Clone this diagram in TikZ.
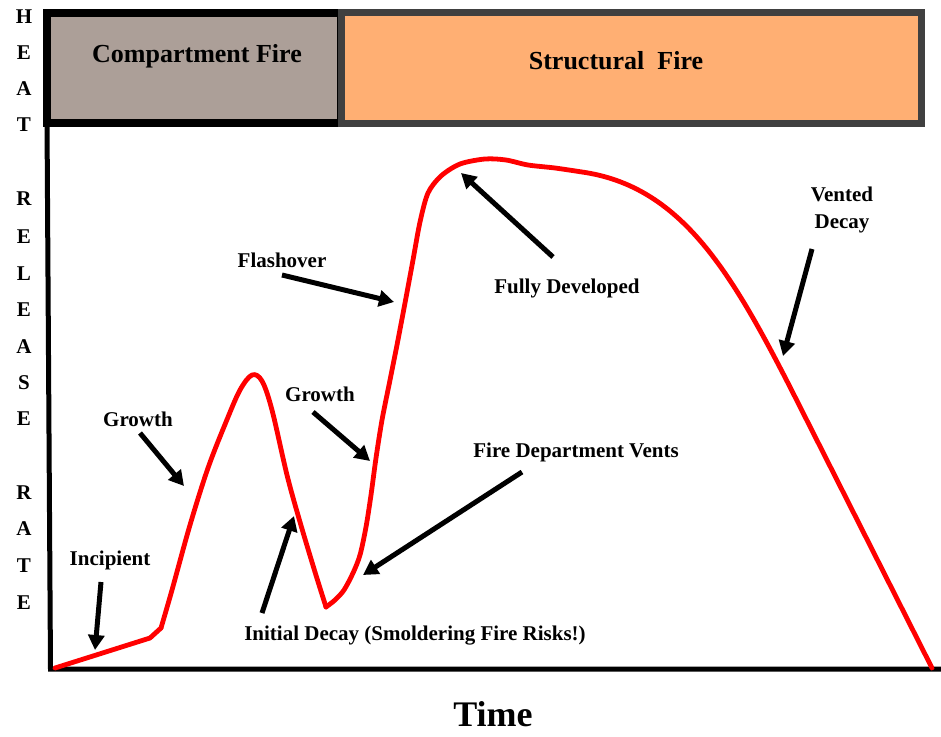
\documentclass[tikz,border=0pt]{standalone}
\usepackage{fontspec}
\setmainfont{Liberation Serif}
\usetikzlibrary{arrows.meta}
\definecolor{compfill}{HTML}{AC9F98}
\definecolor{structfill}{HTML}{FFAF73}
\definecolor{structdraw}{HTML}{404040}
\definecolor{curvered}{HTML}{FF0000}
\begin{document}
\begin{tikzpicture}[x=1pt,y=-1pt,
  lbl/.style={font=\fontsize{21}{24}\selectfont\bfseries, inner sep=0pt},
  boxlbl/.style={font=\fontsize{26}{30}\selectfont\bfseries, inner sep=0pt},
  axislet/.style={font=\fontsize{21}{24}\selectfont\bfseries, inner sep=0pt},
  timelbl/.style={font=\fontsize{36}{40}\selectfont\bfseries, inner sep=0pt},
  callout/.style={line width=5pt, -{Triangle[length=15pt,width=16pt]}},
  firecurve/.style={curvered, line width=4.8pt, line cap=round, line join=round},
  axisline/.style={line width=5pt, line join=miter}]
\useasboundingbox (0,0) rectangle (941,736);

% phase boxes
\draw[line width=8pt, fill=compfill] (47,13) rectangle (341,123);
\draw[line width=7pt, draw=structdraw, fill=structfill] (341.5,12.5) rectangle (921.5,123.5);
\node[boxlbl] (comp) at (197,56) {Compartment Fire};
\node[boxlbl] (struct) at (616,61) {Structural\ \ Fire};

% axes
\draw[axisline] (47,120) -- (50.5,669) -- (941,669);

% axis letters
\foreach \ch/\yy [count=\i] in {H/17,E/53,A/89,T/125,R/199,E/237,L/274,E/310,A/347,S/383,E/419,R/493,A/529,T/566,E/603}
  \node[axislet] (ax\i) at (24,\yy) {\ch};

\node[timelbl] (time) at (493,714) {Time};

% fire curve
\draw[firecurve] (55,668) -- (150,638) -- (161,628);
\draw[firecurve] plot[smooth,tension=0.55] coordinates {(161,628) (172,590) (190,525) (208,468) (226,422) (240,390) (252,375) (262,381) (272,410) (287,475) (300,522) (315,572) (326,607)};
\draw[firecurve] plot[smooth,tension=0.5] coordinates {(326,607) (335,600) (344,590) (353,573) (360,555) (366,527) (371,495) (376,458) (382,420) (389,385) (397,345) (405,303) (413,260) (420,222) (428,193) (441,176) (460,164) (485,159) (506,160) (528,165) (555,168) (582,172)}
  .. controls (680,186) and (730,270) .. (790,387) -- (932,668);

% labels
\node[lbl] (incip) at (110,560) {Incipient};
\node[lbl] (growthA) at (138,419) {Growth};
\node[lbl] (growthB) at (320,394) {Growth};
\node[lbl] (flash) at (282,260) {Flashover};
\node[lbl] (fully) at (567,288) {Fully Developed};
\node[lbl] (vented) at (842,194) {Vented};
\node[lbl] (decay) at (842,224) {Decay};
\node[lbl] (fdv) at (576,452) {Fire Department Vents};
\node[lbl] (initd) at (415,636) {Initial Decay (Smoldering Fire Risks!)};

% arrow end points
\coordinate (incipS) at (101,582);
\coordinate (incipE) at (95,650);
\coordinate (growthAS) at (140,433);
\coordinate (growthAE) at (184,486);
\coordinate (growthBS) at (313,412);
\coordinate (growthBE) at (370,461);
\coordinate (flashS) at (282,275);
\coordinate (flashE) at (394,302);
\coordinate (fullyS) at (553,257);
\coordinate (fullyE) at (461,173);
\coordinate (decayS) at (812,249);
\coordinate (decayE) at (783,356);
\coordinate (fdvS) at (522,472);
\coordinate (fdvE) at (363,575);
\coordinate (initdS) at (262,613);
\coordinate (initdE) at (294,516);

% callout arrows
\draw[callout] (incipS) -- (incipE);
\draw[callout] (growthAS) -- (growthAE);
\draw[callout] (growthBS) -- (growthBE);
\draw[callout] (flashS) -- (flashE);
\draw[callout] (fullyS) -- (fullyE);
\draw[callout] (decayS) -- (decayE);
\draw[callout] (fdvS) -- (fdvE);
\draw[callout] (initdS) -- (initdE);
\end{tikzpicture}
\end{document}
